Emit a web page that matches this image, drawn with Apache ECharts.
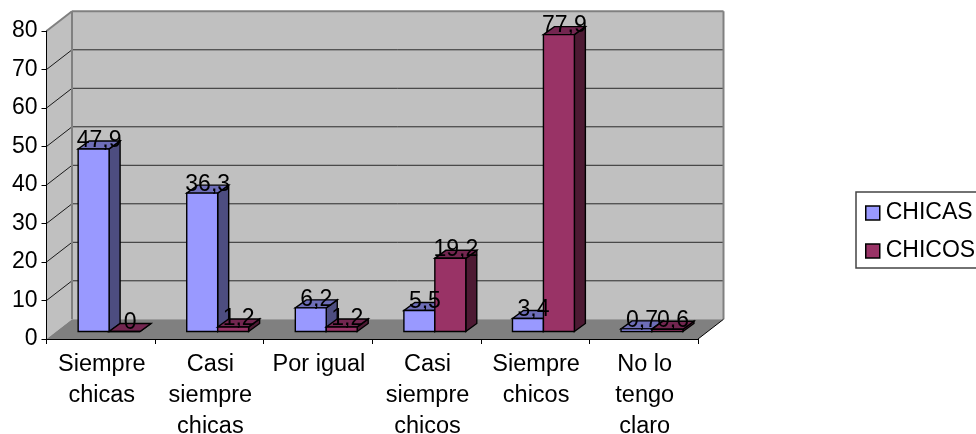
<!DOCTYPE html>
<html>
<head>
<meta charset="utf-8">
<style>html,body{margin:0;padding:0;background:#fff;overflow:hidden}#c{width:976px;height:434px}</style>
<script src="https://cdn.jsdelivr.net/npm/echarts@6/dist/echarts.min.js"></script>
</head>
<body>
<div id="c"></div>
<script>
const categories = ['Siempre\nchicas', 'Casi\nsiempre\nchicas', 'Por igual', 'Casi\nsiempre\nchicos', 'Siempre\nchicos', 'No lo\ntengo\nclaro'];
const chicas = [47.9, 36.3, 6.2, 5.5, 3.4, 0.7];
const chicos = [0, 1.2, 1.2, 19.2, 77.9, 0.6];
const gridValues = [10, 20, 30, 40, 50, 60, 70, 80];

const FONT = '"Liberation Sans", Arial, sans-serif';
const WALL_DX = 25.5, WALL_DY = -19.7;
const BAR_OFF_DX = 8.3, BAR_OFF_DY = -7.5;
const BAR_DEPTH_DX = 11, BAR_DEPTH_DY = -8;
const BAR_W = 0.285;
const BAR_SCALE = 0.99;

const chart = echarts.init(document.getElementById('c'), null, {renderer: 'canvas'});

function poly(points, fill, stroke, lw) {
  return {type: 'polygon', shape: {points}, style: {fill, stroke: stroke || null, lineWidth: lw || 0}};
}
function line(a, b, stroke, lw) {
  return {type: 'line', shape: {x1: a[0], y1: a[1], x2: b[0], y2: b[1]}, style: {stroke, lineWidth: lw}};
}

function renderWalls(params, api) {
  const L = api.coord([0, 0])[0] - api.size([1, 0])[0] / 2;
  const R = api.coord([categories.length - 1, 0])[0] + api.size([1, 0])[0] / 2;
  const y0 = api.coord([0, 0])[1], yT = api.coord([0, 80])[1];
  const b = (x, y) => [x + WALL_DX, y + WALL_DY];
  const kids = [
    poly([b(L, yT), b(R, yT), b(R, y0), b(L, y0)], '#C0C0C0'),
    poly([[L, yT], b(L, yT), b(L, y0), [L, y0]], '#C0C0C0'),
    poly([[L, y0], [R, y0], b(R, y0), b(L, y0)], '#808080')
  ];
  gridValues.slice(0, -1).forEach(v => {
    const y = api.coord([0, v])[1];
    kids.push(line(b(L, y), b(R, y), '#2a2a2a', 1));
    kids.push(line([L, y], b(L, y), '#1a1a1a', 1));
  });
  kids.push(line([L, yT], b(L, yT), '#808080', 2));
  kids.push(line(b(L, yT), b(R, yT), '#808080', 2));
  kids.push(line(b(R, yT), b(R, y0), '#808080', 2));
  kids.push(line(b(L, yT), b(L, y0), '#808080', 2));
  kids.push(line(b(R, y0), [R, y0], '#000', 1));
  return {type: 'group', children: kids};
}

function barTop(api, c, v) {
  const y0 = api.coord([c, 0])[1];
  return y0 + (api.coord([c, v])[1] - y0) * BAR_SCALE + BAR_OFF_DY;
}

function barRenderer(side, front, right, top) {
  return function (params, api) {
    const c = api.value(0), v = api.value(1);
    const w = api.size([1, 0])[0] * BAR_W;
    const cx = api.coord([c, 0])[0] + BAR_OFF_DX;
    const yb = api.coord([c, 0])[1] + BAR_OFF_DY;
    const yt = barTop(api, c, v);
    const x0 = side < 0 ? cx - w : cx, x1 = x0 + w;
    const dx = BAR_DEPTH_DX, dy = BAR_DEPTH_DY;
    return {type: 'group', children: [
      poly([[x1, yb], [x1 + dx, yb + dy], [x1 + dx, yt + dy], [x1, yt]], right, '#000', 1.4),
      poly([[x0, yt], [x1, yt], [x1 + dx, yt + dy], [x0 + dx, yt + dy]], top, '#000', 1.4),
      poly([[x0, yb], [x1, yb], [x1, yt], [x0, yt]], front, '#000', 1.4)
    ]};
  };
}

function labelRenderer(side) {
  return function (params, api) {
    const c = api.value(0), v = api.value(1);
    const w = api.size([1, 0])[0] * BAR_W;
    const cx = api.coord([c, 0])[0] + BAR_OFF_DX;
    const yt = barTop(api, c, v);
    return {type: 'text', style: {
      text: String(v).replace('.', ','),
      x: cx + side * w / 2 + BAR_DEPTH_DX / 2,
      y: yt - 8.5,
      align: 'center', verticalAlign: 'middle',
      font: '23px ' + FONT, fill: '#000'
    }};
  };
}

const toData = arr => arr.map((v, i) => [i, v]);

chart.setOption({
  animation: false,
  backgroundColor: '#fff',
  grid: {left: 46.5, top: 31, width: 651.5, height: 308, containLabel: false, outerBoundsMode: 'none'},
  legend: {
    left: 856, top: 192, orient: 'vertical',
    padding: [9, 30, 5, 9], itemGap: 14,
    itemWidth: 14, itemHeight: 14,
    borderColor: '#444', borderWidth: 1.5, backgroundColor: '#fff',
    selectedMode: false,
    textStyle: {fontFamily: FONT, fontSize: 23, color: '#000', padding: [0, 0, 0, 1], height: 24, lineHeight: 24},
    data: [
      {name: 'CHICAS', icon: 'rect', itemStyle: {color: '#9999FF', borderColor: '#000', borderWidth: 1.5}},
      {name: 'CHICOS', icon: 'rect', itemStyle: {color: '#993366', borderColor: '#000', borderWidth: 1.5}}
    ]
  },
  xAxis: {
    type: 'category', data: categories, z: 6,
    axisLine: {lineStyle: {color: '#000', width: 1}},
    axisTick: {show: true, alignWithLabel: false, length: 5, lineStyle: {color: '#000'}},
    axisLabel: {interval: 0, margin: 10, padding: [0, 0, 0, 2], fontFamily: FONT, fontSize: 23.5, lineHeight: 31, color: '#000'},
    splitLine: {show: false}
  },
  yAxis: {
    type: 'value', min: 0, max: 80, interval: 10, z: 6,
    axisLine: {show: true, lineStyle: {color: '#000', width: 1}},
    axisTick: {show: true, length: 5, lineStyle: {color: '#000'}},
    axisLabel: {margin: 9, padding: [4, 0, 0, 0], fontFamily: FONT, fontSize: 23, color: '#000'},
    splitLine: {show: false}
  },
  series: [
    {type: 'custom', name: 'walls', z: 1, silent: true, renderItem: renderWalls, data: [[0, 0]], encode: {x: 0, y: 1}},
    {type: 'custom', name: 'CHICAS', z: 2, renderItem: barRenderer(-1, '#9999FF', '#4D4D80', '#6E6EB8'),
     itemStyle: {color: '#9999FF'}, data: toData(chicas), encode: {x: 0, y: 1}},
    {type: 'custom', name: 'CHICOS', z: 3, renderItem: barRenderer(1, '#993366', '#4D1A33', '#732650'),
     itemStyle: {color: '#993366'}, data: toData(chicos), encode: {x: 0, y: 1}},
    {type: 'custom', name: 'CHICAS', z: 4, renderItem: labelRenderer(-1), data: toData(chicas), encode: {x: 0, y: 1}},
    {type: 'custom', name: 'CHICOS', z: 5, renderItem: labelRenderer(1), data: toData(chicos), encode: {x: 0, y: 1}}
  ]
});
</script>
</body>
</html>
